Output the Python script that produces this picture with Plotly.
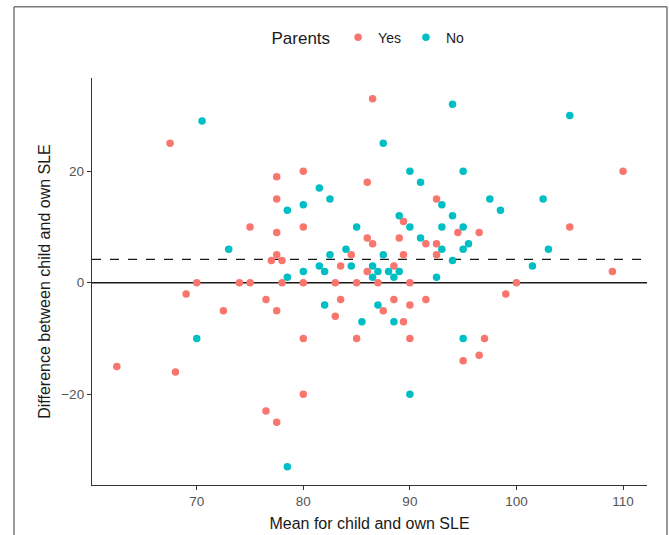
import plotly.graph_objects as go

# Parents = Yes
yes_mean = [67.5, 77.5, 77.5, 75, 77.5, 77.5, 77, 70, 74, 75, 78, 78, 86.5, 80, 86, 92.5, 89.4, 80,
            94.5, 86, 86.5, 89, 91.5, 92.5, 84.5, 89.4, 92.5, 83.5, 88.5, 86, 80, 83, 85, 87, 90,
            110, 105, 96.5, 109, 100, 69, 76.5, 72.5, 77.5, 62.5, 68, 76.5, 77.5, 83.5, 83, 87.5,
            88.5, 89.4, 90, 91.5, 80, 85, 90, 95, 80, 99, 97, 96.5]
yes_diff = [25, 19, 15, 10, 9, 5, 4, 0, 0, 0, 4, 0, 33, 20, 18, 15, 11, 10,
            9, 8, 7, 8, 7, 7, 5, 5, 5, 3, 3, 2, 0, 0, 0, 0, 0,
            20, 10, 9, 2, 0, -2, -3, -5, -5, -15, -16, -23, -25, -3, -6, -5,
            -3, -7, -4, -3, -10, -10, -10, -14, -20, -2, -10, -13]

# Parents = No
no_mean = [70.5, 73, 94, 87.5, 90, 91, 81.5, 82.5, 80, 78.5, 93, 89, 85, 90, 93, 94, 91, 93, 84,
           82.5, 87.5, 94, 81.5, 82, 84.5, 86.5, 87, 88, 89, 80, 78.5, 86.5, 88.5, 92.5, 105, 95,
           97.5, 102.5, 98.5, 95, 95, 95.5, 103, 101.5, 70, 82, 85.5, 87, 88.5, 95, 90, 78.5]
no_diff = [29, 6, 32, 25, 20, 18, 17, 15, 14, 13, 14, 12, 10, 10, 10, 12, 8, 6, 6,
           5, 5, 4, 3, 2, 3, 3, 2, 2, 2, 2, 1, 1, 1, 1, 30, 20,
           15, 15, 13, 10, 6, 7, 6, 3, -10, -4, -7, -4, -7, -10, -20, -33]

mean_difference = 4.2
x_ticks = [70, 80, 90, 100, 110]
y_ticks = [-20, 0, 20]

fig = go.Figure()
fig.add_trace(go.Scatter(x=yes_mean, y=yes_diff, mode="markers", name="Yes",
                         marker=dict(color="#F8766D", size=7.5)))
fig.add_trace(go.Scatter(x=no_mean, y=no_diff, mode="markers", name="No",
                         marker=dict(color="#00BFC4", size=7.5)))

fig.add_shape(type="line", xref="paper", x0=0, x1=1, yref="y", y0=0, y1=0,
              line=dict(color="#1a1a1a", width=1.3), layer="below")
fig.add_shape(type="line", xref="paper", x0=0, x1=1, yref="y", y0=mean_difference, y1=mean_difference,
              line=dict(color="#1a1a1a", width=1.3, dash="dash"), layer="below")

# outer frame of the image (left, top, right edges)
frame = dict(color="#777777", width=1.5)
fl, fr, ft, fb = -0.1405, 1.036, 1.175, -0.2
fig.add_shape(type="line", xref="paper", yref="paper", x0=fl, x1=fl, y0=fb, y1=ft, line=frame)
fig.add_shape(type="line", xref="paper", yref="paper", x0=fl, x1=fr, y0=ft, y1=ft, line=frame)
fig.add_shape(type="line", xref="paper", yref="paper", x0=fr, x1=fr, y0=fb, y1=ft, line=frame)

font_family = "Liberation Sans, Arial, sans-serif"
fig.update_layout(
    width=669, height=535,
    margin=dict(l=92, r=22, t=78, b=50),
    paper_bgcolor="white", plot_bgcolor="white",
    font=dict(family=font_family, color="#1a1a1a"),
    showlegend=True,
    legend=dict(orientation="h", x=0.5, xanchor="center", y=1.098, yanchor="middle",
                title=dict(text="Parents", font=dict(size=17, color="#1a1a1a")),
                font=dict(size=14, color="#1a1a1a"), itemsizing="trace"),
    xaxis=dict(range=[60.17, 112.25], tickvals=x_ticks, showgrid=False, zeroline=False,
               showline=True, linecolor="#333333", linewidth=1.3, automargin=False,
               ticks="outside", ticklen=4, tickcolor="#333333", tickwidth=1.2,
               tickfont=dict(size=13.5, color="#555555"),
               title=dict(text="Mean for child and own SLE", font=dict(size=16, color="#1a1a1a"), standoff=9)),
    yaxis=dict(range=[-36.25, 36.7], tickvals=y_ticks, showgrid=False, zeroline=False,
               showline=True, linecolor="#333333", linewidth=1.3, automargin=False,
               ticks="outside", ticklen=4, tickcolor="#333333", tickwidth=1.2,
               tickfont=dict(size=13.5, color="#555555"),
               title=dict(text="Difference between child and own SLE", font=dict(size=16, color="#1a1a1a"), standoff=6)),
)

fig.write_html("out.html", config={"displayModeBar": False},
               post_script="document.body.style.margin='0';")
